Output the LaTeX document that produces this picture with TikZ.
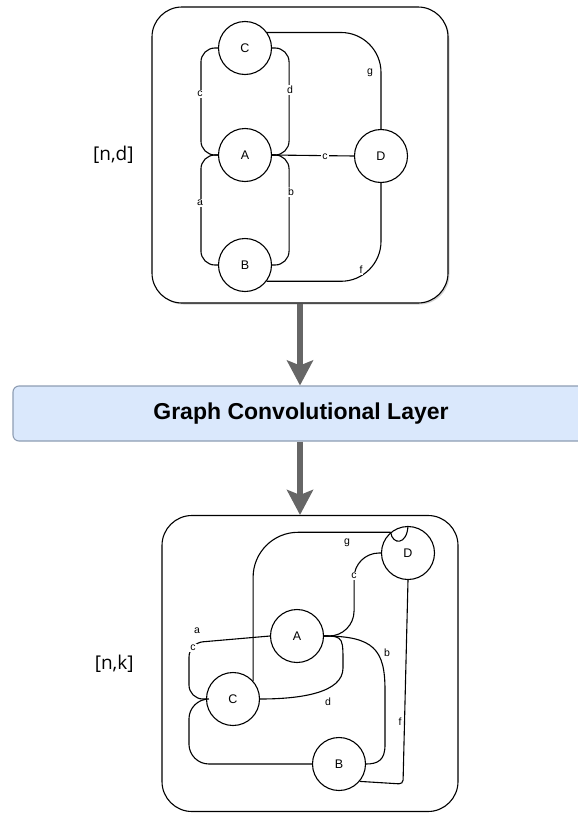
\documentclass[tikz,border=0pt]{standalone}
\usepackage{fontspec}
\setmainfont{Liberation Sans}
\newfontfamily\dimfont{Open Sans}
\usetikzlibrary{arrows.meta,positioning,shadows}

\definecolor{flowgray}{HTML}{666666}
\definecolor{layerfill}{HTML}{DAE8FC}
\definecolor{layerline}{HTML}{8E9DB3}

\tikzset{
  vertex/.style={draw, circle, minimum size=53pt, inner sep=0pt,
    font=\fontsize{12.5}{13}\selectfont},
  elabel/.style={fill=white, inner sep=1pt, font=\fontsize{10.5}{11}\selectfont},
  link/.style={rounded corners=14pt},
  panel/.style={draw, fill=white, rounded corners=30pt,
    minimum width=296pt, minimum height=296pt},
  layer/.style={draw=layerline, fill=layerfill, rounded corners=6pt,
    minimum width=576pt, minimum height=55pt,
    font=\bfseries\fontsize{23}{26}\selectfont},
  dimlabel/.style={font=\dimfont\fontsize{19}{22}\selectfont},
  flow/.style={draw=flowgray, line width=6pt,
    -{Stealth[width=26pt, length=25pt, inset=5pt]}},
}

\begin{document}
\begin{tikzpicture}[x=1pt, y=-1pt, line width=1.1pt]
  \useasboundingbox (0,0) rectangle (578,814);

  % Input graph
  \node[panel, drop shadow={shadow xshift=1.5pt, shadow yshift=-1.5pt, fill=black!35}]
    (inbox) at (300,155) {};
  \node[dimlabel, left=14pt of inbox] (dimin) {[n,d]};

  \node[vertex] (C1) at (245,48) {C};
  \node[vertex] (A1) at (245,155) {A};
  \node[vertex] (B1) at (245,265) {B};
  \node[vertex] (D1) at (381,156) {D};

  \draw[link] (C1.west) -- ++(-17,0) |- (A1.west);
  \draw[link] (C1.east) -- ++(17,0) |- (A1.east);
  \draw[link] (A1.west) -- ++(-17,0) |- (B1.west);
  \draw[link] (A1.east) -- ++(17,0) |- (B1.east);
  \draw (A1.east) -- (D1.west);
  \draw[rounded corners=40pt] (C1.35) -| (D1.north);
  \draw[rounded corners=40pt] (B1.-37) -| (D1.south);

  \node[elabel] (lc1) at (200,94) {c};
  \node[elabel] (ld1) at (290,90) {d};
  \node[elabel] (la1) at (200,203) {a};
  \node[elabel] (lb1) at (291,192) {b};
  \node[elabel] (le1) at (325,157) {c};
  \node[elabel] (lg1) at (370,73) {g};
  \node[elabel] (lf1) at (361,270) {f};

  % Layer
  \node[layer] (gcl) at (301,413.5) {Graph Convolutional Layer};

  % Output graph
  \node[panel] (outbox) at (310,663.5) {};
  \node[dimlabel, left=24pt of outbox] (dimout) {[n,k]};

  \draw[flow] (inbox.south) -- (gcl.north -| inbox.south);
  \draw[flow] (gcl.south -| inbox.south) -- (outbox.north -| inbox.south);

  \node[vertex] (A2) at (297,636) {A};
  \node[vertex] (C2) at (233,699) {C};
  \node[vertex] (B2) at (339,764) {B};
  \node[vertex] (D2) at (408,553) {D};

  \draw[rounded corners=45pt] (C2.42) |- (D2.130);
  \draw (D2.130) .. controls +(2,13) and +(-1,19) .. (D2.north);
  \draw[rounded corners=25pt] (A2.east) -- ++(30,0) |- (D2.west);
  \draw (A2.east) .. controls +(50,0) and +(0,-40) .. (385,690) -- (385,745)
    .. controls +(0,15) and +(12,0) .. (B2.east);
  \draw (A2.east) .. controls +(20,0) and +(0,-30) .. (343,668)
    .. controls +(0,25) and +(40,0) .. (C2.east);
  \draw[rounded corners=4pt] (D2.south) -- ++(-5,204) -- (B2.-40);
  \draw[link] (A2.west) -- (189,643) |- (C2.west);
  \draw[rounded corners=20pt] (C2.west) -- ++(-17,0) |- (B2.west);

  \node[elabel] (lg2) at (347,543) {g};
  \node[elabel] (lc2) at (354,576) {c};
  \node[elabel] (la2) at (197,631) {a};
  \node[elabel] (le2) at (193,648) {c};
  \node[elabel] (lb2) at (387,653) {b};
  \node[elabel] (ld2) at (328,702) {d};
  \node[elabel] (lf2) at (400,722) {f};
\end{tikzpicture}
\end{document}
